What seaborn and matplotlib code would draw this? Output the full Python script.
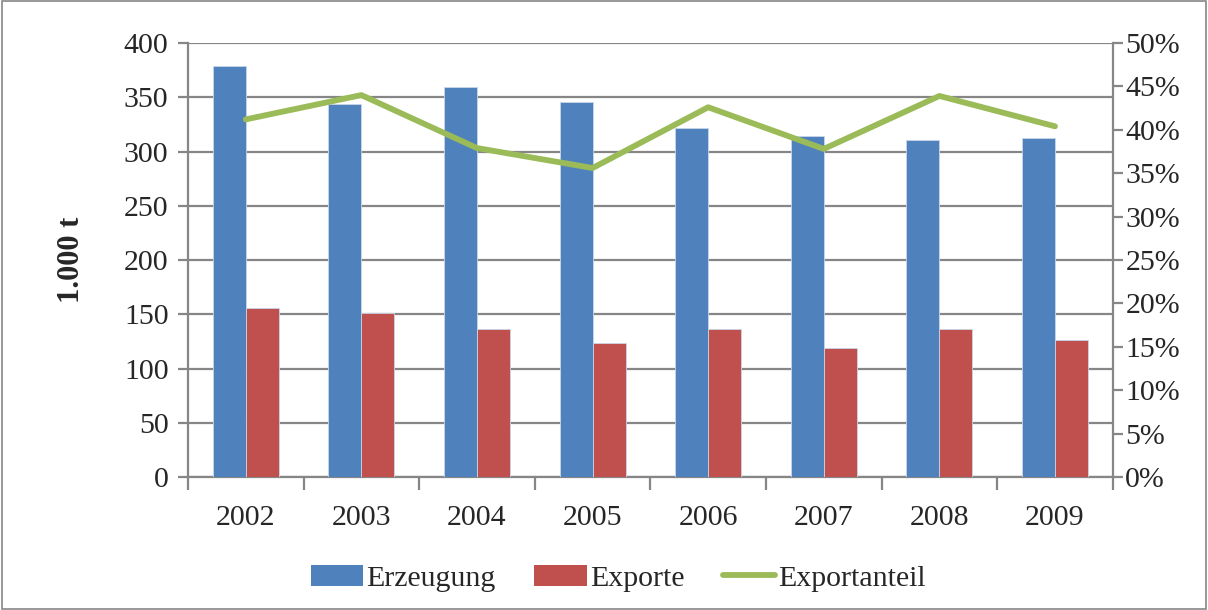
import numpy as np
import pandas as pd
import matplotlib
matplotlib.use("Agg")
import matplotlib.pyplot as plt
import seaborn as sns
from matplotlib.patches import Patch, Rectangle
from matplotlib.lines import Line2D
from matplotlib.ticker import PercentFormatter, FixedLocator

# data
years = ["2002", "2003", "2004", "2005", "2006", "2007", "2008", "2009"]
erzeugung = [378.7, 344, 359, 346, 321.5, 314, 310.5, 312]
exporte = [155.6, 151.6, 136.1, 123.1, 136.8, 118.9, 136.1, 126]
exportanteil = [41.2, 44.0, 37.9, 35.6, 42.6, 37.8, 43.9, 40.4]

blue = "#4F81BD"
red = "#C0504D"
green = "#9BBB59"
grid_grey = "#868686"

sns.set_style("white")
plt.rcParams["font.family"] = ["Liberation Serif", "DejaVu Serif"]

bars = pd.DataFrame({
    "Jahr": years * 2,
    "Menge": erzeugung + exporte,
    "Serie": ["Erzeugung"] * len(years) + ["Exporte"] * len(years),
})
share = pd.DataFrame({"Jahr": years, "Anteil": exportanteil})

fig = plt.figure(figsize=(12.08, 6.10), dpi=100)
ax = fig.add_axes([0.1556, 0.218, 0.7656, 0.7115])

sns.barplot(data=bars, x="Jahr", y="Menge", hue="Serie",
            palette=[blue, red], width=0.57, saturation=1,
            edgecolor="#c9d6e8", linewidth=0.6,
            legend=False, ax=ax, zorder=3)

ax.set_ylim(0, 400)
ax.set_yticks(range(0, 401, 50))
ax.set_xlim(-0.5, len(years) - 0.5)
ax.yaxis.grid(True, color=grid_grey, linewidth=1.6, zorder=0)
ax.set_axisbelow(True)
ax.set_xlabel("")
ax.set_ylabel("1.000 t", fontsize=22, fontweight="bold", labelpad=27)

for side in ["left", "right", "bottom"]:
    ax.spines[side].set_color(grid_grey)
    ax.spines[side].set_linewidth(1.6)
ax.spines["top"].set_visible(False)

ax.tick_params(axis="y", which="major", length=7, width=1.6, color=grid_grey,
               labelsize=21.5, pad=7, direction="out", left=True)
ax.tick_params(axis="x", which="major", length=0, labelsize=21.5, pad=20)
ax.xaxis.set_minor_locator(FixedLocator(np.arange(-0.5, len(years), 1.0)))
ax.tick_params(axis="x", which="minor", length=9, width=1.6, color=grid_grey,
               direction="out", bottom=True)

ax2 = ax.twinx()
sns.pointplot(data=share, x="Jahr", y="Anteil", color=green, markers="",
              linewidth=4.2, ax=ax2, errorbar=None)
ax2.set_xlim(-0.5, len(years) - 0.5)
ax2.set_ylim(0, 50)
ax2.set_yticks(range(0, 51, 5))
ax2.yaxis.set_major_formatter(PercentFormatter(decimals=0))
ax2.set_ylabel("")
ax2.set_xlabel("")
for side in ["left", "right", "bottom", "top"]:
    ax2.spines[side].set_visible(False)
ax2.tick_params(axis="y", length=7, width=1.6, color=grid_grey,
                labelsize=21.5, pad=2, direction="out", right=True)
ax2.grid(False)

handles = [
    Patch(facecolor=blue, edgecolor="none", label="Erzeugung"),
    Patch(facecolor=red, edgecolor="none", label="Exporte"),
    Line2D([], [], color=green, linewidth=4.2, label="Exportanteil"),
]
fig.legend(handles=handles, loc="center", bbox_to_anchor=(0.512, 0.052),
           ncol=3, frameon=False, fontsize=21.5, handlelength=1.75,
           handleheight=0.7, handletextpad=0.1, columnspacing=1.3)

fig.add_artist(Rectangle((0.002, 0.002), 0.996, 0.996, transform=fig.transFigure,
                         fill=False, edgecolor=grid_grey, linewidth=1.2))

fig.savefig("out.png", dpi=100)
